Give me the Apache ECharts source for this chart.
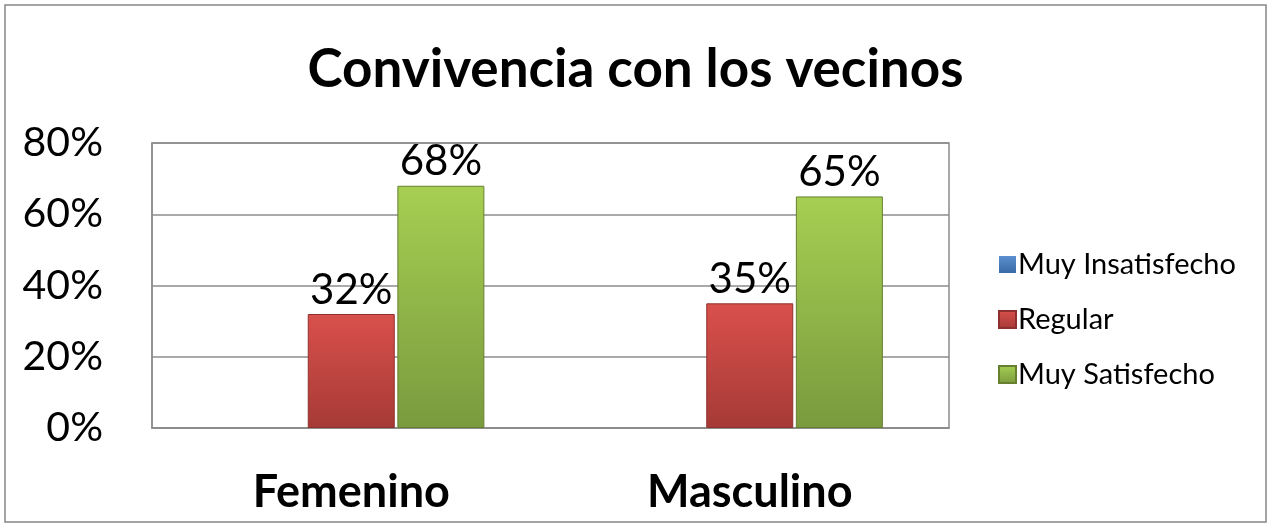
<!DOCTYPE html>
<html>
<head>
<meta charset="utf-8">
<script src="https://cdn.jsdelivr.net/npm/echarts@6/dist/echarts.min.js"></script>
<style>
    html, body { margin: 0; padding: 0; background: #fff; }
    #chart { width: 1271px; height: 527px; }
</style>
</head>
<body>
<div id="chart"></div>
<script>
// 数据
var categories = ['Femenino', 'Masculino'];
var seriesNames = ['Muy Insatisfecho', 'Regular', 'Muy Satisfecho'];
var muyInsatisfecho = [0, 0];
var regular = [32, 35];
var muySatisfecho = [68, 65];
var yTicks = [0, 20, 40, 60, 80];

(function () {
    let myechart = echarts.init(document.getElementById('chart'));
    let font = 'Lato';

    function grad(top, bottom) {
        return new echarts.graphic.LinearGradient(0, 0, 0, 1, [
            { offset: 0, color: top },
            { offset: 1, color: bottom }
        ]);
    }

    let labelStyle = {
        show: true,
        position: 'top',
        distance: 3,
        fontFamily: font,
        fontSize: 42,
        color: '#000',
        formatter: '{c}%'
    };

    var option = {
        backgroundColor: '#fff',
        animation: false,
        title: {
            text: 'Convivencia con los vecinos',
            left: 'center',
            top: 38,
            textStyle: {
                fontFamily: font,
                fontWeight: 'bold',
                fontSize: 53,
                color: '#000'
            }
        },
        legend: {
            orient: 'vertical',
            left: 993,
            top: 245,
            icon: 'rect',
            itemWidth: 17,
            itemHeight: 17,
            itemGap: 26,
            data: seriesNames,
            textStyle: {
                fontFamily: font,
                fontSize: 29,
                color: '#000',
                padding: [0, 0, 0, -3]
            }
        },
        grid: {
            left: 152,
            right: 322,
            top: 143,
            bottom: 99,
            show: true,
            borderColor: '#8c8c8c',
            borderWidth: 1.5
        },
        xAxis: {
            type: 'category',
            data: categories,
            axisTick: { show: false },
            axisLine: { lineStyle: { color: '#8c8c8c', width: 1.5 } },
            axisLabel: {
                margin: 42,
                fontFamily: font,
                fontWeight: 'bold',
                fontSize: 45,
                color: '#000'
            }
        },
        yAxis: {
            type: 'value',
            min: yTicks[0],
            max: yTicks[yTicks.length - 1],
            interval: 20,
            axisTick: { show: false },
            axisLine: { show: true, lineStyle: { color: '#8c8c8c', width: 1.5 } },
            splitLine: { lineStyle: { color: '#8c8c8c', width: 1.5 } },
            axisLabel: {
                margin: 49,
                fontFamily: font,
                fontSize: 41,
                color: '#000',
                formatter: '{value}%'
            }
        },
        graphic: [
            {
                type: 'rect',
                shape: { x: 5, y: 5, width: 1261, height: 517 },
                style: { fill: 'none', stroke: '#868686', lineWidth: 1.5 },
                silent: true
            }
        ],
        series: [
            {
                name: seriesNames[0],
                type: 'bar',
                barWidth: 87,
                barGap: '3%',
                data: muyInsatisfecho,
                itemStyle: {
                    color: grad('#5b8fd0', '#3a6aa5'),
                    borderWidth: 0
                },
                label: { show: false }
            },
            {
                name: seriesNames[1],
                type: 'bar',
                barWidth: 87,
                barGap: '3%',
                data: regular,
                itemStyle: {
                    color: grad('#d9504c', '#a63a36'),
                    borderColor: '#8e302d',
                    borderWidth: 1
                },
                label: labelStyle
            },
            {
                name: seriesNames[2],
                type: 'bar',
                barWidth: 87,
                barGap: '3%',
                data: muySatisfecho,
                itemStyle: {
                    color: grad('#a6cf52', '#7a9a3e'),
                    borderColor: '#66802f',
                    borderWidth: 1
                },
                label: labelStyle
            }
        ]
    };

    myechart.setOption(option);
    window.addEventListener('resize', function () {
        myechart.resize();
    });
})();
</script>
</body>
</html>
